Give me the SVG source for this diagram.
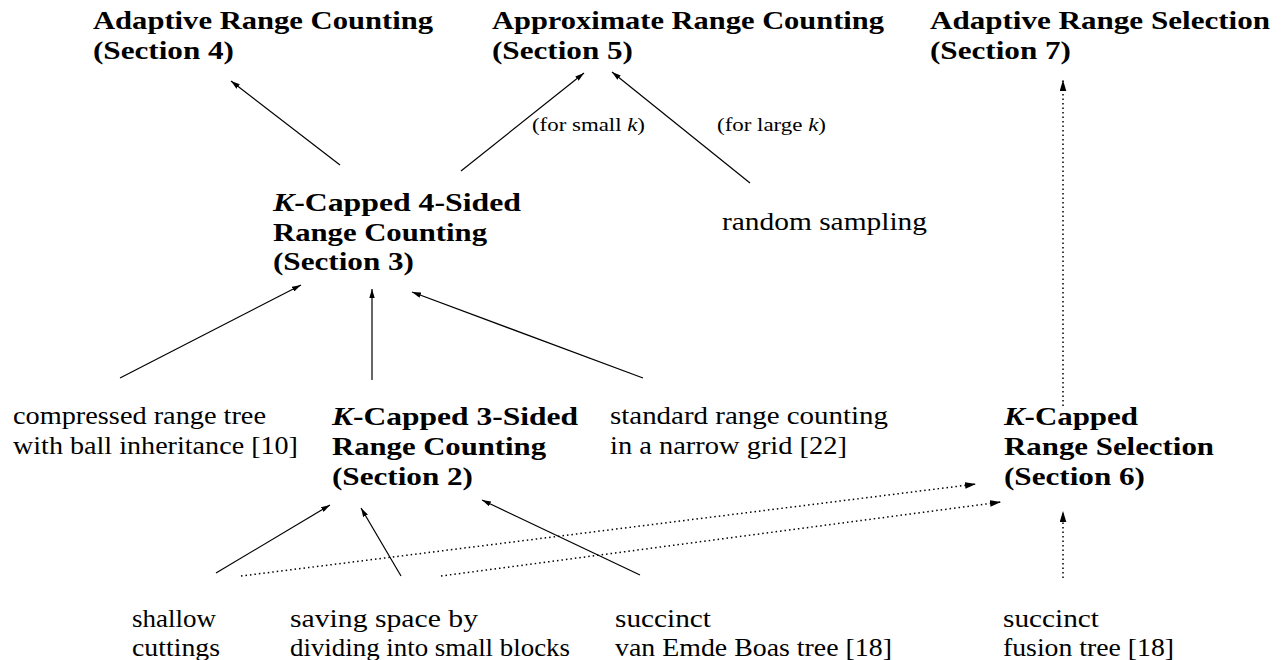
<svg xmlns="http://www.w3.org/2000/svg" width="1283" height="660" viewBox="0 0 1283 660">
<style>
.b{font-family:"Liberation Serif","DejaVu Serif",serif;font-weight:bold;font-size:26px;fill:#000}
.r{font-family:"Liberation Serif","DejaVu Serif",serif;font-size:26px;fill:#000}
.s{font-family:"Liberation Serif","DejaVu Serif",serif;font-size:19px;fill:#000}
.i{font-style:italic}
.ln{fill:none;stroke:#000;stroke-width:1.2}
.dt{fill:none;stroke:#000;stroke-width:1.5;stroke-dasharray:1.5 3}
</style>
<defs>
<marker id="ah" viewBox="0 0 10 6" refX="10" refY="3" markerWidth="9" markerHeight="5.5" markerUnits="userSpaceOnUse" orient="auto"><path d="M0,0 L10,3 L0,6 z" fill="#000"/></marker>
<marker id="ahd" viewBox="0 0 10 6" refX="10" refY="3" markerWidth="11" markerHeight="7" markerUnits="userSpaceOnUse" orient="auto"><path d="M0,0 L10,3 L0,6 z" fill="#000"/></marker>
</defs>
<g id="connectors">
<line class="ln" x1="340" y1="165" x2="231" y2="81" marker-end="url(#ah)"/>
<line class="ln" x1="461" y1="171" x2="584" y2="73" marker-end="url(#ah)"/>
<line class="ln" x1="750" y1="183" x2="612" y2="72" marker-end="url(#ah)"/>
<line class="dt" x1="1063" y1="406" x2="1063" y2="80" marker-end="url(#ahd)"/>
<line class="ln" x1="120" y1="378" x2="301" y2="285" marker-end="url(#ah)"/>
<line class="ln" x1="372" y1="380" x2="372" y2="289" marker-end="url(#ah)"/>
<line class="ln" x1="643" y1="378" x2="412" y2="292" marker-end="url(#ah)"/>
<line class="ln" x1="216" y1="573" x2="330" y2="505" marker-end="url(#ah)"/>
<line class="ln" x1="401" y1="576" x2="361" y2="508" marker-end="url(#ah)"/>
<line class="ln" x1="640" y1="575" x2="482" y2="500" marker-end="url(#ah)"/>
<line class="dt" x1="241" y1="576" x2="976" y2="484" marker-end="url(#ahd)"/>
<line class="dt" x1="441" y1="576" x2="1001" y2="502" marker-end="url(#ahd)"/>
<line class="dt" x1="1063" y1="578" x2="1063" y2="511" marker-end="url(#ahd)"/>
<text class="s" x="532" y="131" textLength="113" lengthAdjust="spacingAndGlyphs">(for small <tspan class="i">k</tspan>)</text>
<text class="s" x="717" y="131" textLength="109" lengthAdjust="spacingAndGlyphs">(for large <tspan class="i">k</tspan>)</text>
</g>
<g id="n_sec4">
<text class="b" x="93" y="29" textLength="340" lengthAdjust="spacingAndGlyphs">Adaptive Range Counting</text>
<text class="b" x="93" y="59" textLength="141" lengthAdjust="spacingAndGlyphs">(Section 4)</text>
</g>
<g id="n_sec5">
<text class="b" x="492" y="29" textLength="392" lengthAdjust="spacingAndGlyphs">Approximate Range Counting</text>
<text class="b" x="492" y="59" textLength="141" lengthAdjust="spacingAndGlyphs">(Section 5)</text>
</g>
<g id="n_sec7">
<text class="b" x="930" y="29" textLength="340" lengthAdjust="spacingAndGlyphs">Adaptive Range Selection</text>
<text class="b" x="930" y="59" textLength="141" lengthAdjust="spacingAndGlyphs">(Section 7)</text>
</g>
<g id="n_sec3">
<text class="b" x="273" y="211" textLength="248" lengthAdjust="spacingAndGlyphs"><tspan class="i">K</tspan>-Capped 4-Sided</text>
<text class="b" x="273" y="241" textLength="214" lengthAdjust="spacingAndGlyphs">Range Counting</text>
<text class="b" x="273" y="270" textLength="141" lengthAdjust="spacingAndGlyphs">(Section 3)</text>
</g>
<g id="n_random">
<text class="r" x="722" y="230" textLength="205" lengthAdjust="spacingAndGlyphs">random sampling</text>
</g>
<g id="n_compressed">
<text class="r" x="13" y="424" textLength="253" lengthAdjust="spacingAndGlyphs">compressed range tree</text>
<text class="r" x="13" y="454" textLength="285" lengthAdjust="spacingAndGlyphs">with ball inheritance [10]</text>
</g>
<g id="n_sec2">
<text class="b" x="332" y="425" textLength="246" lengthAdjust="spacingAndGlyphs"><tspan class="i">K</tspan>-Capped 3-Sided</text>
<text class="b" x="332" y="455" textLength="214" lengthAdjust="spacingAndGlyphs">Range Counting</text>
<text class="b" x="332" y="485" textLength="141" lengthAdjust="spacingAndGlyphs">(Section 2)</text>
</g>
<g id="n_standard">
<text class="r" x="610" y="424" textLength="278" lengthAdjust="spacingAndGlyphs">standard range counting</text>
<text class="r" x="610" y="454" textLength="237" lengthAdjust="spacingAndGlyphs">in a narrow grid [22]</text>
</g>
<g id="n_sec6">
<text class="b" x="1004" y="425" textLength="134" lengthAdjust="spacingAndGlyphs"><tspan class="i">K</tspan>-Capped</text>
<text class="b" x="1004" y="455" textLength="210" lengthAdjust="spacingAndGlyphs">Range Selection</text>
<text class="b" x="1004" y="485" textLength="141" lengthAdjust="spacingAndGlyphs">(Section 6)</text>
</g>
<g id="n_shallow">
<text class="r" x="132" y="627" textLength="84" lengthAdjust="spacingAndGlyphs">shallow</text>
<text class="r" x="132" y="656" textLength="88" lengthAdjust="spacingAndGlyphs">cuttings</text>
</g>
<g id="n_saving">
<text class="r" x="290" y="627" textLength="188" lengthAdjust="spacingAndGlyphs">saving space by</text>
<text class="r" x="290" y="656" textLength="280" lengthAdjust="spacingAndGlyphs">dividing into small blocks</text>
</g>
<g id="n_succinct">
<text class="r" x="615" y="627" textLength="96" lengthAdjust="spacingAndGlyphs">succinct</text>
<text class="r" x="615" y="656" textLength="277" lengthAdjust="spacingAndGlyphs">van Emde Boas tree [18]</text>
</g>
<g id="n_fusion">
<text class="r" x="1003" y="627" textLength="96" lengthAdjust="spacingAndGlyphs">succinct</text>
<text class="r" x="1003" y="656" textLength="171" lengthAdjust="spacingAndGlyphs">fusion tree [18]</text>
</g>
</svg>
